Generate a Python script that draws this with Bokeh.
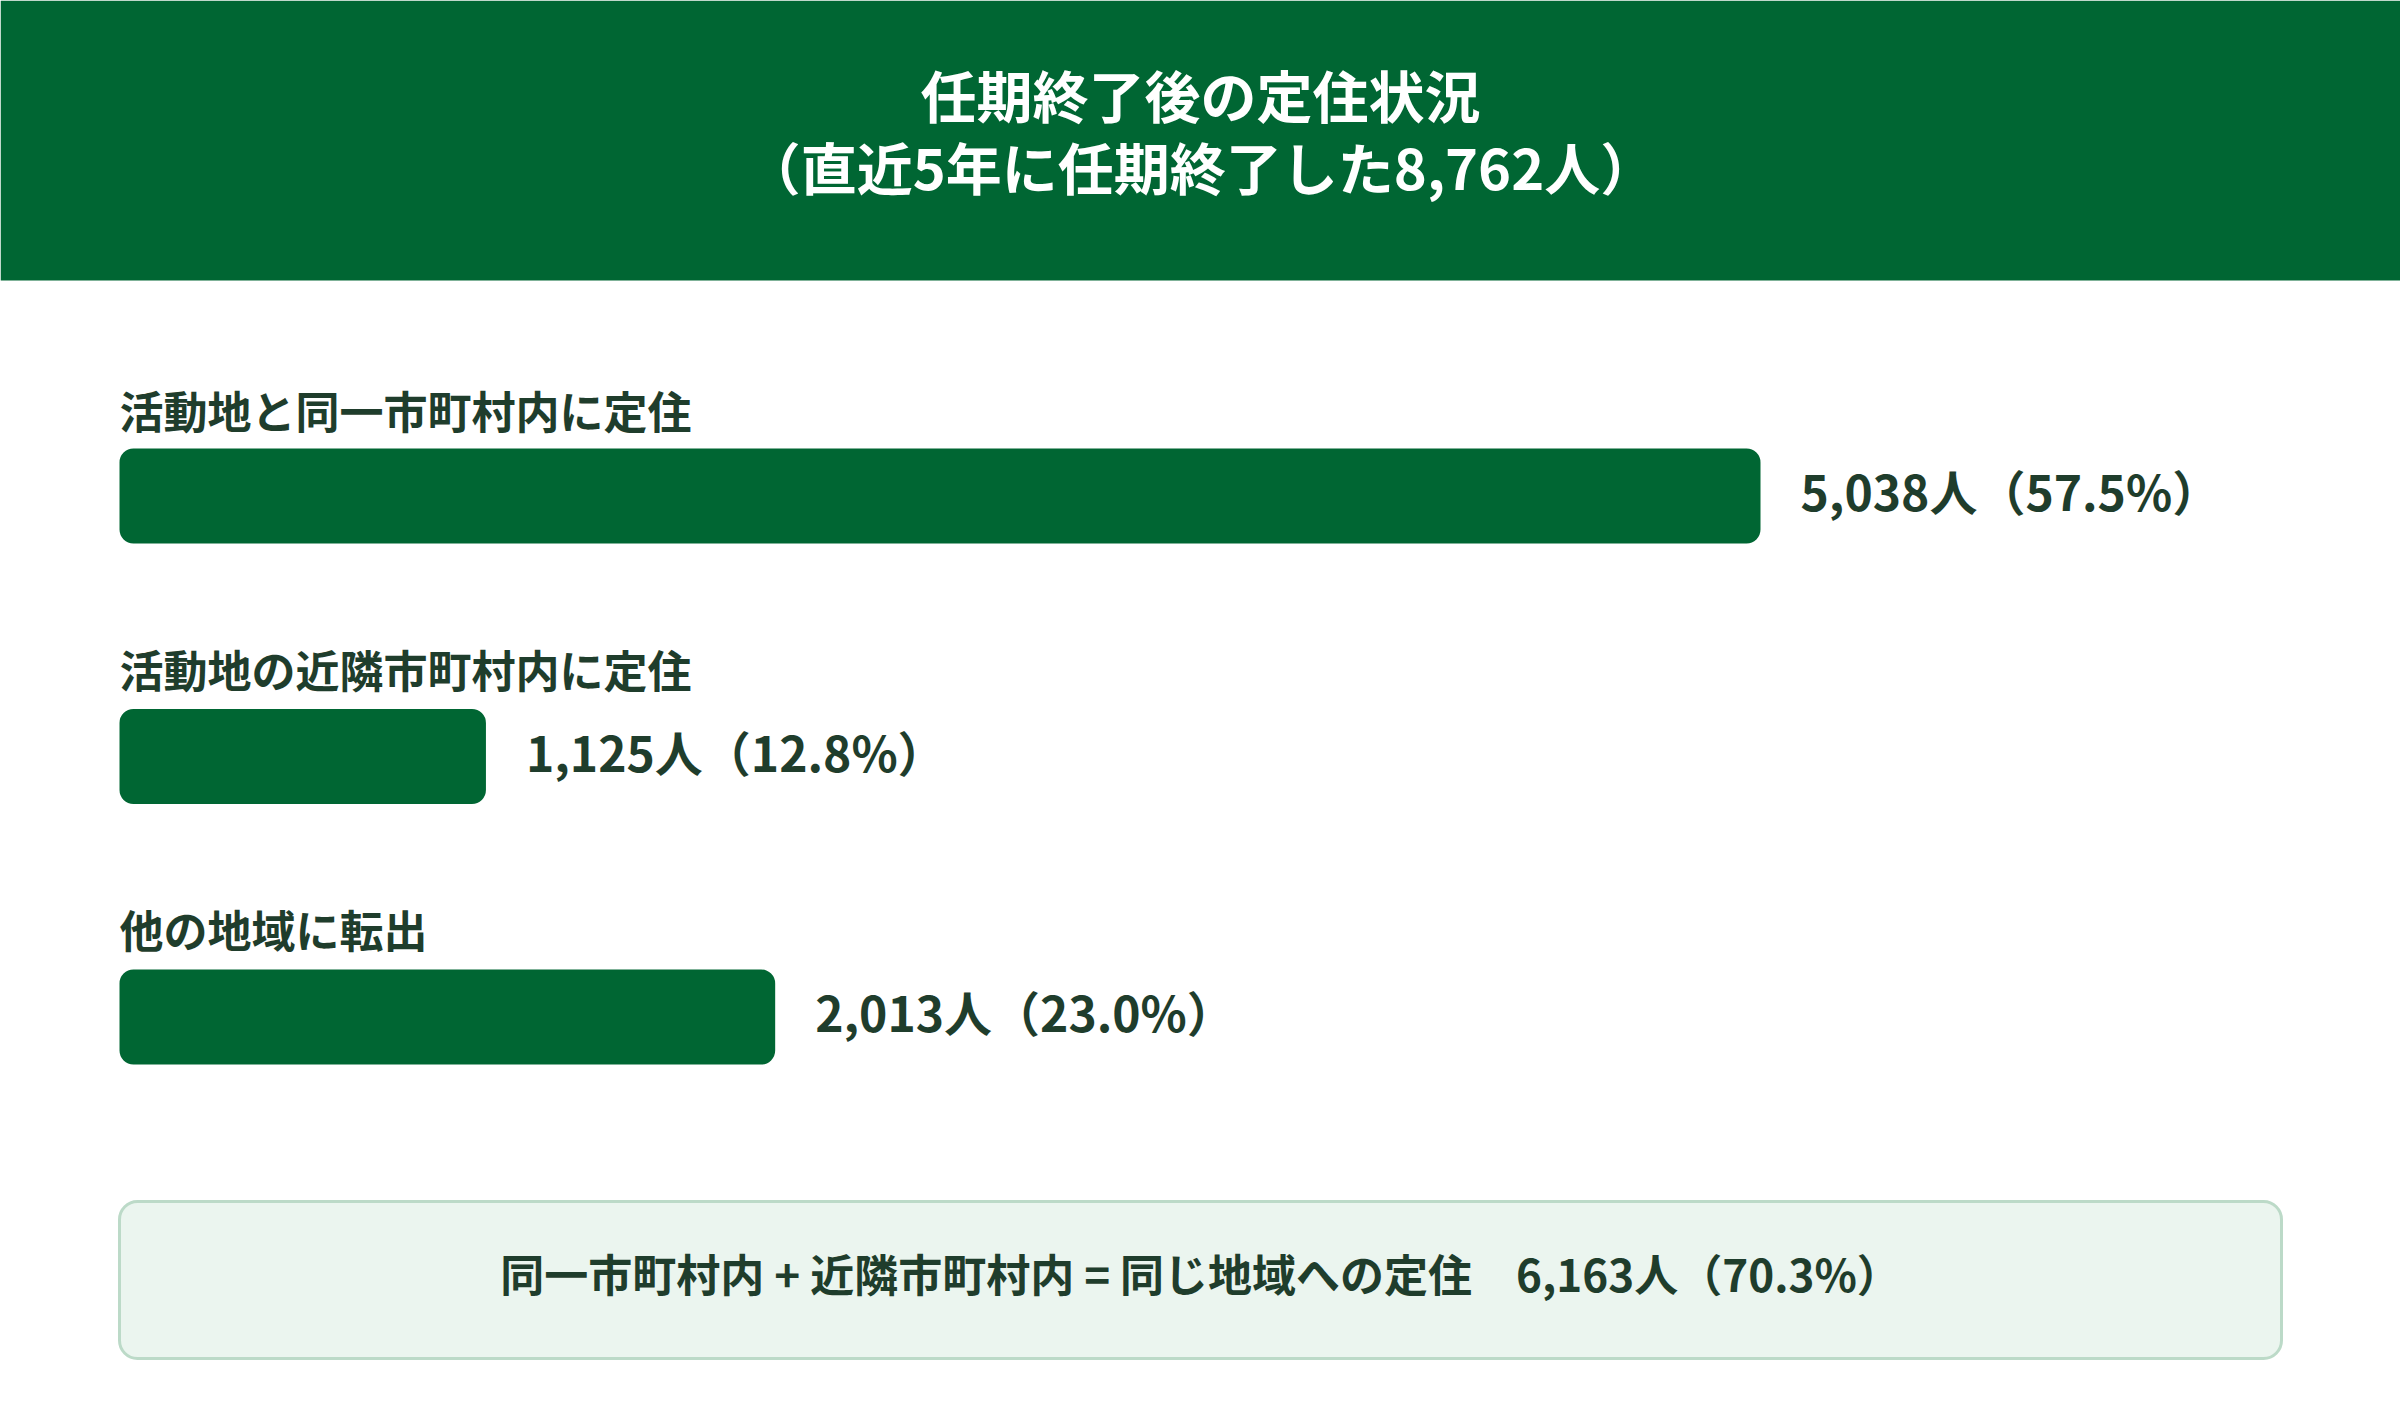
from bokeh.plotting import figure
from bokeh.models import Range1d, ColumnDataSource
from bokeh.core.properties import value
from bokeh.embed import file_html
from bokeh.resources import INLINE

title_lines = ["任期終了後の定住状況", "（直近5年に任期終了した8,762人）"]
categories = ["活動地と同一市町村内に定住", "活動地の近隣市町村内に定住", "他の地域に転出"]
counts = [5038, 1125, 2013]
percents = [57.5, 12.8, 23.0]
summary_count = 6163
summary_percent = 70.3
summary_text_prefix = "同一市町村内 + 近隣市町村内 = 同じ地域への定住"

W, H = 2400, 1420
FONT = value("Noto Sans CJK JP")
GREEN = "#006633"
DARK = "#1f3d2c"

p = figure(width=W, height=H, output_backend="svg", toolbar_location=None,
           x_range=Range1d(0, W), y_range=Range1d(H, 0), min_border=0,
           background_fill_color="white", border_fill_color="white")
p.axis.visible = False
p.grid.visible = False
p.outline_line_color = None

# value scale: 0 -> px 119, 5038 -> px 1760
px0 = 119
k = (1760 - 119) / 5038.0
p.extra_x_ranges = {"val": Range1d(-px0 / k, (W - px0) / k)}

# header
p.quad(left=[0], right=[W], top=[0], bottom=[280], fill_color=GREEN, line_color=None)
p.text(x=[W / 2, W / 2], y=[93, 165], text=title_lines, text_font=FONT,
       text_font_style="bold", text_font_size="56px", text_color="white",
       text_align="center", text_baseline="middle")

# bars
bar_centers = [495.5, 756, 1016.5]
label_y = [409, 668, 928]
labels = [f"{c:,}人（{pc:.1f}%）" for c, pc in zip(counts, percents)]
src = ColumnDataSource(dict(cat=categories, n=counts, yc=bar_centers, ly=label_y, lab=labels,
                            zero=[0] * len(counts)))
p.hbar(y="yc", left="zero", right="n", height=95, source=src, x_range_name="val",
       fill_color=GREEN, line_color=None, border_radius=14)
p.text(x="zero", y="ly", text="cat", source=src, x_range_name="val", text_font=FONT,
       text_font_style="bold", text_font_size="44px", text_color=DARK,
       text_align="left", text_baseline="middle")
p.text(x="n", y="yc", text="lab", source=src, x_range_name="val", x_offset=40, y_offset=-6,
       text_font=FONT, text_font_style="bold", text_font_size="48px", text_color=DARK,
       text_align="left", text_baseline="middle")

# summary box
p.quad(left=[119], right=[2281], top=[1201], bottom=[1358], fill_color="#ebf5ef",
       line_color="#bcdac8", line_width=3, border_radius=18)
summary = f"{summary_text_prefix}　{summary_count:,}人（{summary_percent:.1f}%）"
p.text(x=[1200], y=[1272], text=[summary], text_font=FONT, text_font_style="bold",
       text_font_size="44px", text_color=DARK, text_align="center", text_baseline="middle")

open("out.html", "w").write(file_html(p, INLINE))
